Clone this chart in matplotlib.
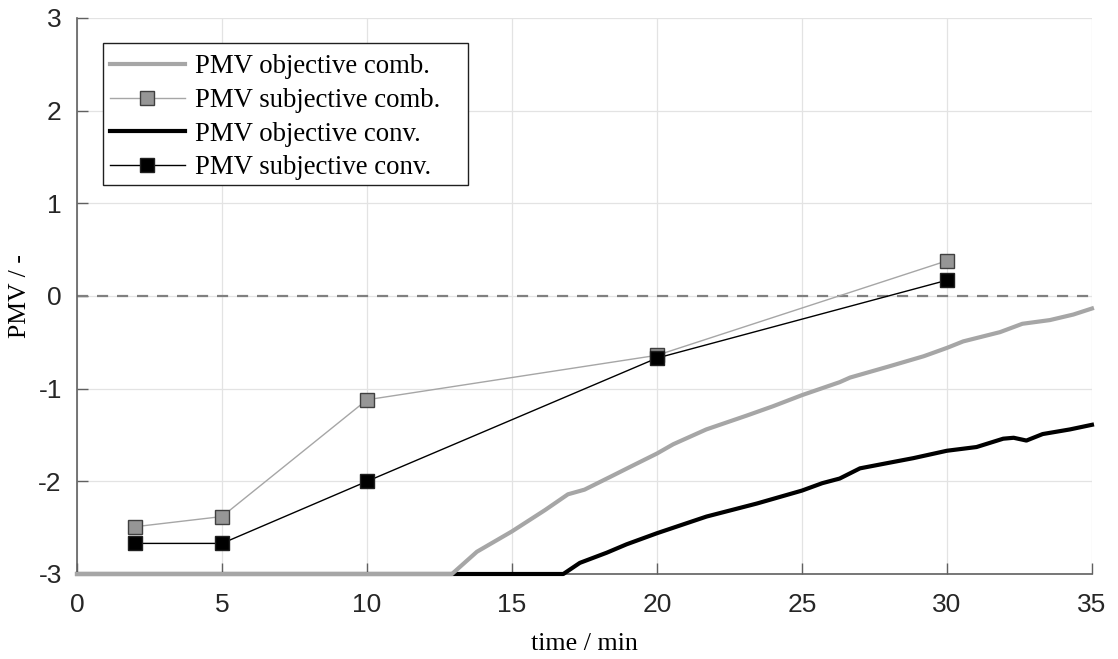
import matplotlib
matplotlib.use("Agg")
import matplotlib.pyplot as plt
from matplotlib.patches import Rectangle

plt.rcParams["axes.unicode_minus"] = False

# -----------------------------
# Data
# -----------------------------
# objective PMV, combined system (thick grey)
t_obj_comb = [0, 12.93, 13.79, 15.0, 16.14, 16.93, 17.5, 18.4, 19.1, 20.0, 20.56,
              21.7, 23.1, 24.0, 25.0, 26.3, 26.66, 28.0, 29.2, 30.0, 30.56,
              31.83, 32.6, 33.55, 34.36, 35.0]
pmv_obj_comb = [-3, -3, -2.76, -2.54, -2.31, -2.14, -2.09, -1.95, -1.84, -1.70, -1.60,
                -1.44, -1.29, -1.19, -1.07, -0.93, -0.88, -0.76, -0.65, -0.56, -0.49,
                -0.39, -0.30, -0.26, -0.20, -0.135]

# objective PMV, conventional system (thick black)
t_obj_conv = [0, 16.77, 17.34, 18.27, 18.95, 20.0, 21.71, 23.44, 25.0, 25.7, 26.3,
              27.0, 28.0, 28.84, 30.0, 31.02, 31.94, 32.3, 32.74, 33.3, 34.24, 35.0]
pmv_obj_conv = [-3, -3, -2.88, -2.77, -2.68, -2.56, -2.38, -2.24, -2.10, -2.02, -1.97,
                -1.86, -1.80, -1.75, -1.67, -1.63, -1.54, -1.53, -1.56, -1.49, -1.44, -1.39]

# subjective votes
t_subj = [2, 5, 10, 20, 30]
pmv_subj_comb = [-2.49, -2.38, -1.12, -0.64, 0.38]
pmv_subj_conv = [-2.67, -2.67, -2.00, -0.67, 0.17]

labels = ["PMV objective comb.", "PMV subjective comb.",
          "PMV objective conv.", "PMV subjective conv."]

# -----------------------------
# Figure
# -----------------------------
fig = plt.figure(figsize=(11.18, 6.59), dpi=100)
ax = fig.add_axes([0.0689, 0.129, 0.9078, 0.8437])

serif = ["Liberation Serif", "DejaVu Serif"]
sans = ["Liberation Sans", "DejaVu Sans"]

ax.axhline(0, color="#808080", lw=1.6, ls=(0, (5, 4)), zorder=2)

h2, = ax.plot(t_subj, pmv_subj_comb, color="#a6a6a6", lw=1.0, marker="s",
              ms=10.5, mfc="#969696", mec="#404040", mew=1.0, zorder=3)
h4, = ax.plot(t_subj, pmv_subj_conv, color="black", lw=1.0, marker="s",
              ms=10.5, mfc="black", mec="#202020", mew=1.0, zorder=4)
h3, = ax.plot(t_obj_conv, pmv_obj_conv, color="black", lw=3.0, zorder=5,
              clip_on=False)
h1, = ax.plot(t_obj_comb, pmv_obj_comb, color="#a6a6a6", lw=3.0, zorder=6,
              clip_on=False)

ax.set_xlim(0, 35)
ax.set_ylim(-3, 3)
ax.set_xticks([0, 5, 10, 15, 20, 25, 30, 35])
ax.set_yticks([-3, -2, -1, 0, 1, 2, 3])

ax.grid(True, color="#e3e3e3", lw=0.9)
ax.set_axisbelow(True)
for s in ["top", "right"]:
    ax.spines[s].set_visible(False)
for s in ["left", "bottom"]:
    ax.spines[s].set_color("#606060")
    ax.spines[s].set_linewidth(1.2)

ax.tick_params(direction="in", length=8, width=1.0, color="#606060",
               labelcolor="#262626", labelsize=19)
ax.tick_params(axis="x", pad=14)
ax.tick_params(axis="y", pad=11)
for lab in ax.get_xticklabels() + ax.get_yticklabels():
    lab.set_family(sans)

ax.set_xlabel("time / min", family=serif, fontsize=18.7, labelpad=11)
ax.set_ylabel("PMV / -", family=serif, fontsize=18.5, labelpad=5)

# legend box (MATLAB style, extra room on the right)
ax.add_patch(Rectangle((0.0256, 0.6996), 0.3596, 0.2554, transform=ax.transAxes,
                       facecolor="white", edgecolor="#202020", lw=1.0,
                       zorder=9, clip_on=False))
leg = ax.legend([h1, h2, h3, h4], labels, loc="upper left",
                bbox_to_anchor=(0.0256, 0.9466), borderaxespad=0,
                prop={"family": serif, "size": 19.3}, frameon=False,
                handlelength=2.8, handletextpad=0.4, borderpad=0.25,
                labelspacing=0.32)
leg.set_zorder(10)

fig.savefig("out.png", dpi=100)
